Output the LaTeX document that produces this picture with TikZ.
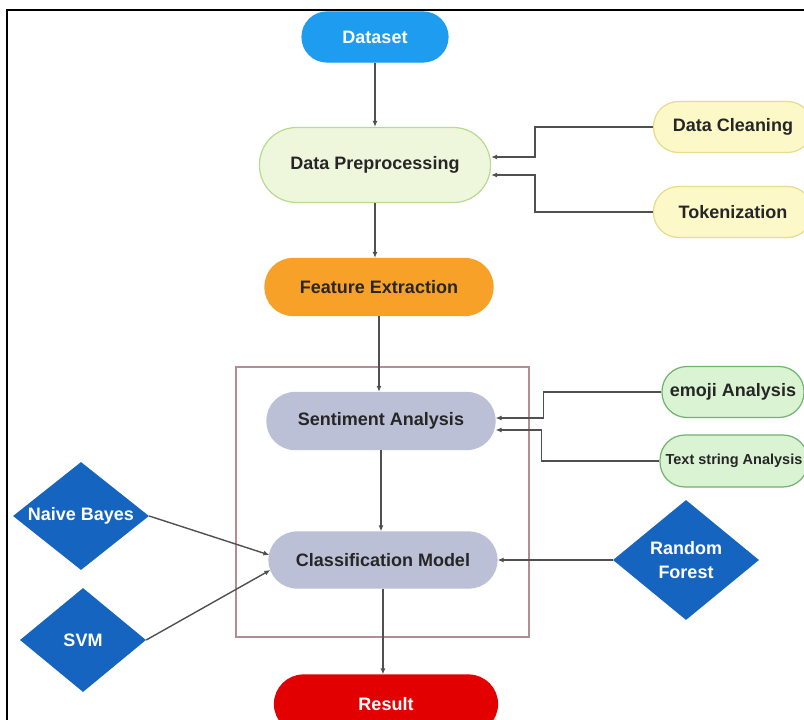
\documentclass[tikz,border=0pt]{standalone}
\usepackage{fontspec}
\setmainfont{Liberation Sans}
\usetikzlibrary{shapes.geometric,arrows.meta}
\definecolor{dsblue}{HTML}{1E9CF0}
\definecolor{prepfill}{HTML}{EEF7DC}
\definecolor{prepline}{HTML}{B9D98F}
\definecolor{cleanfill}{HTML}{FCF8C8}
\definecolor{cleanline}{HTML}{E6DC8C}
\definecolor{featfill}{HTML}{F7A128}
\definecolor{lavender}{HTML}{BCC0D6}
\definecolor{subfill}{HTML}{D9F3D3}
\definecolor{subline}{HTML}{6FB36F}
\definecolor{resred}{HTML}{E30000}
\definecolor{algoblue}{HTML}{1565C0}
\definecolor{framecol}{HTML}{B48C94}
\definecolor{wire}{HTML}{505050}
\begin{document}
\begin{tikzpicture}[
    x=1pt,y=-1pt,
    >={Latex[length=6pt,width=5pt]},
    pill/.style={
      rectangle,draw,line width=1.2pt,inner sep=0pt,align=center,
      font=\bfseries\fontsize{18}{21}\selectfont,text=black!85
    },
    algo/.style={
      diamond,aspect=1.3,fill=algoblue,inner sep=0pt,align=center,
      text=white,font=\bfseries\fontsize{18}{24}\selectfont
    },
    flow/.style={draw=wire,line width=1.4pt,->},
  ]
  \clip (0,0) rectangle (804,720);
  \fill[white] (0,0) rectangle (804,720);
  \draw[line width=1.2pt] (7,720) |- (804,10);
  \draw[draw=framecol,line width=1.3pt] (236,367) rectangle (529,637);
  \node[pill,fill=dsblue,draw=dsblue,text=white,rounded corners=25pt,
    minimum width=146,minimum height=50] (dataset) at (375,37) {Dataset};
  \node[pill,fill=prepfill,draw=prepline,rounded corners=37pt,
    minimum width=231,minimum height=75] (prep) at (375,165) {Data Preprocessing};
  \node[pill,fill=cleanfill,draw=cleanline,rounded corners=25pt,
    minimum width=159,minimum height=51] (clean) at (733,127) {Data Cleaning};
  \node[pill,fill=cleanfill,draw=cleanline,rounded corners=25pt,
    minimum width=159,minimum height=51] (tok) at (733,212) {Tokenization};
  \node[pill,fill=featfill,draw=featfill,rounded corners=28pt,
    minimum width=228,minimum height=57] (feat) at (379,287) {Feature Extraction};
  \node[pill,fill=lavender,draw=lavender,rounded corners=28pt,
    minimum width=228,minimum height=57] (senti) at (381,421) {Sentiment Analysis};
  \node[pill,fill=subfill,draw=subline,rounded corners=25pt,
    minimum width=142,minimum height=51] (emoji) at (733,392) {emoji Analysis};
  \node[pill,fill=subfill,draw=subline,rounded corners=25pt,
    minimum width=148,minimum height=52,
    font=\bfseries\fontsize{14.5}{17}\selectfont] (tstring) at (734,461) {Text string Analysis};
  \node[pill,fill=lavender,draw=lavender,rounded corners=28pt,
    minimum width=228,minimum height=56] (cls) at (383,560) {Classification Model};
  \node[pill,fill=resred,draw=resred,text=white,rounded corners=29pt,
    minimum width=223,minimum height=58] (res) at (386,704) {Result};
  \node[algo,minimum width=136,minimum height=108] (nb) at (81,516) {Naive Bayes};
  \node[algo,minimum width=126,minimum height=104] (svm) at (83,640) {SVM};
  \node[algo,minimum width=146,minimum height=120] (rf) at (686,560) {Random\\Forest};
  \draw[flow] (dataset) -- (dataset |- prep.north);
  \draw[flow] (prep) -- (prep |- feat.north);
  \draw[flow] (feat) -- (feat |- senti.north);
  \draw[flow] (senti) -- (senti |- cls.north);
  \draw[flow] (cls.south) -- (cls.south |- res.north);
  \draw[flow] (clean.west) -- ++(-118,0) |- ([yshift=8pt]prep.east);
  \draw[flow] (tok.west) -- ++(-118,0) |- ([yshift=-10pt]prep.east);
  \draw[flow] (emoji.west) -- ++(-118,0) |- ([yshift=3pt]senti.east);
  \draw[flow] (tstring.west) -- ++(-118,0) |- ([yshift=-9pt]senti.east);
  \draw[flow] (nb.east) -- ([xshift=1pt,yshift=5pt]cls.west);
  \draw[flow] (svm.east) -- ([xshift=2pt,yshift=-10pt]cls.west);
  \draw[flow] (rf.west) -- (cls.east);
\end{tikzpicture}
\end{document}
